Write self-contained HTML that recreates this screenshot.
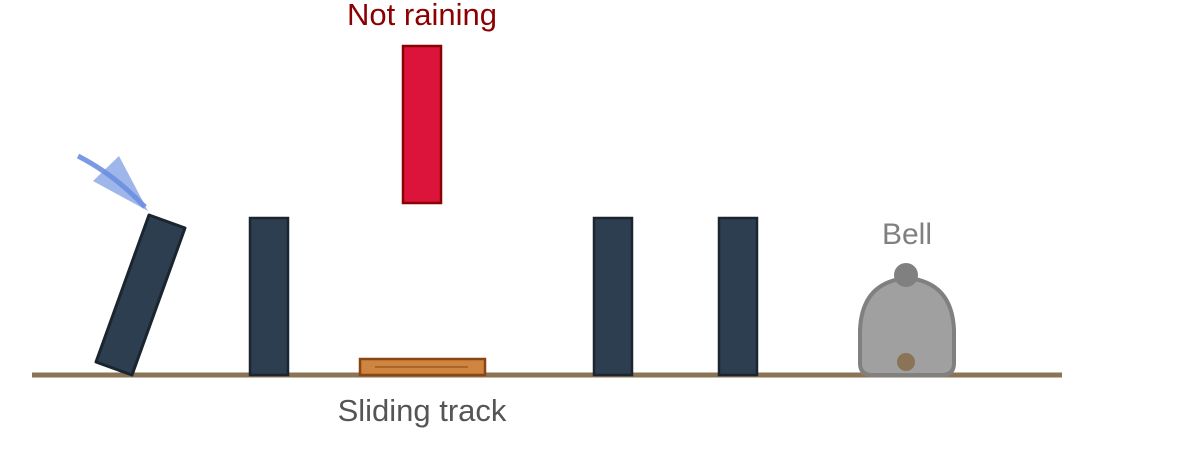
<!DOCTYPE html>
<html><head><meta charset="utf-8"><style>
html,body{margin:0;padding:0;background:#fff;}
svg{display:block;font-family:"Liberation Sans",sans-serif;}
</style></head><body>
<svg width="1188" height="469" viewBox="0 0 1188 469">
<line x1="32" y1="375" x2="1062" y2="375" stroke="#8b7355" stroke-width="5"/>
<polygon points="149,215 185,228 132,375 96,362" fill="#2c3e50" stroke="#1a252f" stroke-width="3" stroke-linejoin="round"/>
<path d="M78,156 Q115,175 145,207" fill="none" stroke="#6b8fe0" stroke-width="5" opacity="0.9"/>
<polygon points="119,156 93,181 148,211" fill="#6b8fe0" opacity="0.65"/>
<rect x="250" y="218" width="38" height="157" fill="#2c3e50" stroke="#1a252f" stroke-width="2.5"/>
<rect x="403" y="46" width="38" height="157" fill="#dc143c" stroke="#8b0000" stroke-width="2.5"/>
<text x="422" y="25" text-anchor="middle" font-size="31" fill="#8b0000">Not raining</text>
<rect x="360" y="359" width="125" height="16" fill="#cd853f" stroke="#8b4513" stroke-width="2.5"/>
<line x1="375" y1="367" x2="468" y2="367" stroke="#8b4513" stroke-width="1"/>
<text x="422" y="421" text-anchor="middle" font-size="31" fill="#555">Sliding track</text>
<rect x="594" y="218" width="38" height="157" fill="#2c3e50" stroke="#1a252f" stroke-width="2.5"/>
<rect x="719" y="218" width="38" height="157" fill="#2c3e50" stroke="#1a252f" stroke-width="2.5"/>
<path d="M860,363 L860,330 Q862,282 907,278 Q952,282 954,330 L954,363 Q954,375 942,375 L872,375 Q860,375 860,363 Z" fill="#a0a0a0" stroke="#808080" stroke-width="4"/>
<circle cx="906" cy="275" r="12" fill="#808080"/>
<circle cx="906" cy="362" r="9" fill="#8b7355"/>
<text x="907" y="244" text-anchor="middle" font-size="30" fill="#808080">Bell</text>
</svg>
</body></html>
